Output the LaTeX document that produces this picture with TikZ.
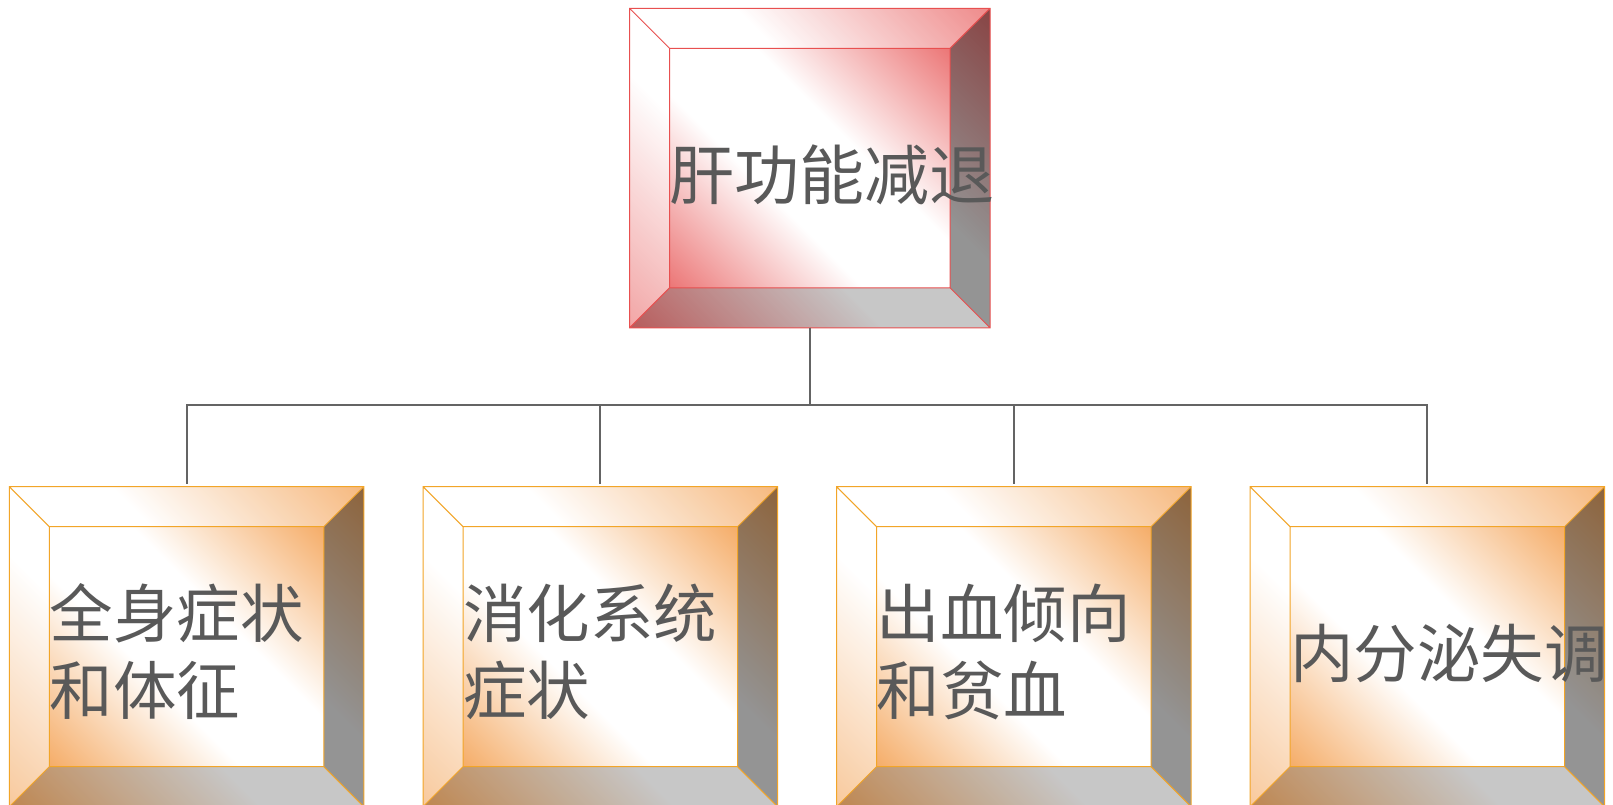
\documentclass[tikz,border=0pt]{standalone}
\usepackage{fontspec}
\setmainfont{Noto Sans CJK SC}
\usetikzlibrary{calc}
\definecolor{redbase}{RGB}{234,105,105}
\definecolor{redline}{RGB}{232,80,80}
\definecolor{orgbase}{RGB}{244,165,90}
\definecolor{orgline}{RGB}{242,165,40}
\definecolor{txt}{RGB}{89,89,89}
\definecolor{connc}{RGB}{100,100,100}
\pgfdeclarehorizontalshading{redmirror}{100bp}{color(0bp)=(redbase); color(12bp)=(redbase); color(41bp)=(white); color(59bp)=(white); color(88bp)=(redbase); color(100bp)=(redbase)}
\pgfdeclarehorizontalshading{orgmirror}{100bp}{color(0bp)=(orgbase); color(12bp)=(orgbase); color(41bp)=(white); color(59bp)=(white); color(88bp)=(orgbase); color(100bp)=(orgbase)}
\tikzset{
  boxbase/.style={rectangle, draw=none, inner sep=0pt, outer sep=0pt},
  lbl/.style={inner sep=0pt, text=txt, align=left, font=\fontsize{63.5}{77}\selectfont, anchor=west},
  connline/.style={draw=connc, line width=2pt},
}
\newcommand{\bevelbox}[7]{%
  \node[boxbase, minimum width=#4pt, minimum height=#5pt, anchor=north west] (#1) at (#2,#3) {};
  \coordinate (#1-inw) at ($(#1.north west)+(40pt,-40pt)$);
  \coordinate (#1-ine) at ($(#1.north east)+(-40pt,-40pt)$);
  \coordinate (#1-isw) at ($(#1.south west)+(40pt,40pt)$);
  \coordinate (#1-ise) at ($(#1.south east)+(-40pt,40pt)$);
  \fill[shading=#6, shading angle=45] (#1.north west) rectangle (#1.south east);
  \fill[shading=#6, shading angle=45] (#1-inw) rectangle (#1-ise);
  \fill[white, opacity=0.35] (#1.north west) -- (#1-inw) -- (#1-isw) -- (#1.south west) -- cycle;
  \fill[white, opacity=0.15] (#1.north west) -- (#1.north east) -- (#1-ine) -- (#1-inw) -- cycle;
  \fill[black, opacity=0.42] (#1.north east) -- (#1.south east) -- (#1-ise) -- (#1-ine) -- cycle;
  \fill[black, opacity=0.22] (#1.south west) -- (#1-isw) -- (#1-ise) -- (#1.south east) -- cycle;
  \draw[#7, line width=1pt] (#1.north west) rectangle (#1.south east)
    (#1-inw) rectangle (#1-ise)
    (#1.north west) -- (#1-inw) (#1.north east) -- (#1-ine)
    (#1.south west) -- (#1-isw) (#1.south east) -- (#1-ise);
}
\begin{document}
\begin{tikzpicture}[x=1pt, y=-1pt]
\useasboundingbox[fill=white] (0,0) rectangle (1613,805);
\bevelbox{top}{629.5}{8.3}{360.5}{319.5}{redmirror}{redline}
\bevelbox{b1}{9.3}{486.7}{354.5}{320}{orgmirror}{orgline}
\bevelbox{b2}{423}{486.7}{354.5}{320}{orgmirror}{orgline}
\bevelbox{b3}{836.5}{486.7}{354.5}{320}{orgmirror}{orgline}
\bevelbox{b4}{1250}{486.7}{354.5}{320}{orgmirror}{orgline}
\node[lbl, font=\fontsize{65}{77}\selectfont] (ttop) at (669.5,175) {肝功能减退};
\node[lbl] (tb1) at (49.3,652) {全身症状\\和体征};
\node[lbl] (tb2) at (463,652) {消化系统\\症状};
\node[lbl] (tb3) at (876.5,652) {出血倾向\\和贫血};
\node[lbl] (tb4) at (1290,653) {内分泌失调};
\coordinate (bus) at ($(top.south)+(0pt,-77pt)$);
\foreach \b in {b1,b2,b3,b4}{
  \draw[connline] (top.south) -- (bus) -| ($(\b.north)+(0pt,2.5pt)$);
}
\end{tikzpicture}
\end{document}
